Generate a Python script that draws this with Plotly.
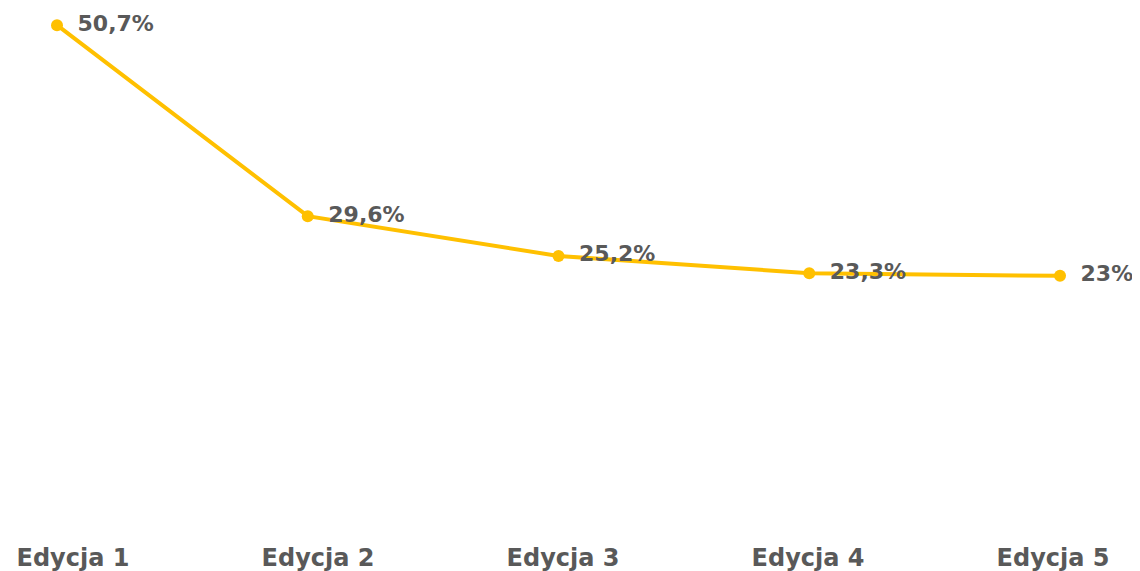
import plotly.graph_objects as go

categories = ["Edycja 1", "Edycja 2", "Edycja 3", "Edycja 4", "Edycja 5"]
values = [50.7, 29.6, 25.2, 23.3, 23.0]
labels = ["50,7%", "29,6%", "25,2%", "23,3%", "23%"]

GRAY = "#595959"
YELLOW = "#FFC000"
FONT = "DejaVu Sans"

fig = go.Figure(go.Scatter(
    x=categories, y=values, mode="lines+markers+text",
    text=labels, texttemplate="\u00a0\u2009%{text}", textposition="middle right",
    textfont=dict(family=FONT, size=22, color=GRAY, weight="bold"),
    line=dict(color=YELLOW, width=4),
    marker=dict(color=YELLOW, size=12),
    cliponaxis=False, hoverinfo="skip",
))
# carrier trace for the category label axis (draws nothing)
fig.add_trace(go.Scatter(
    x=list(range(len(categories))), y=values, mode="none",
    xaxis="x2", yaxis="y", hoverinfo="skip", showlegend=False,
))

fig.update_layout(
    width=1132, height=563,
    margin=dict(l=0, r=0, t=0, b=87, autoexpand=False),
    paper_bgcolor="white", plot_bgcolor="white",
    showlegend=False,
    xaxis=dict(type="category", range=[-0.1954, 4.319], showgrid=False, zeroline=False,
               showline=False, ticks="", showticklabels=False, automargin=False),
    xaxis2=dict(overlaying="x", anchor="y", side="bottom", range=[-0.2653, 4.355],
                tickvals=list(range(len(categories))), ticktext=categories,
                showgrid=False, zeroline=False, showline=False, ticks="",
                ticklabelstandoff=57, automargin=False,
                tickfont=dict(family=FONT, size=24, color=GRAY, weight="bold")),
    yaxis=dict(range=[0, 52.6], visible=False, showgrid=False, zeroline=False,
               automargin=False),
)

fig.write_html("out.html")
